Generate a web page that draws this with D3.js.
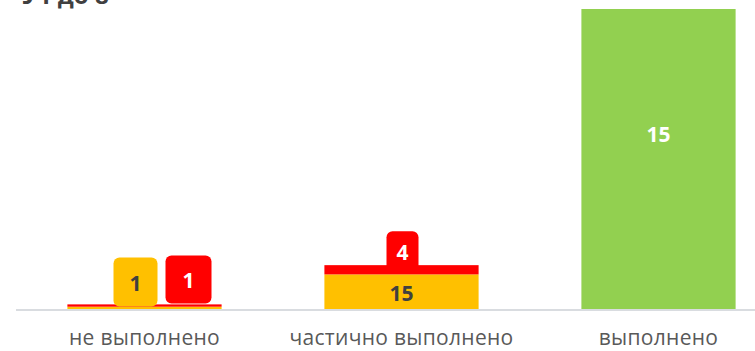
<!DOCTYPE html>
<html>
<head>
<meta charset="utf-8">
<script src="https://cdn.jsdelivr.net/npm/d3@7"></script>
<style>
  html, body { margin: 0; padding: 0; background: #fff; }
  svg { display: block; }
</style>
</head>
<body>
<svg id="chart" width="755" height="351"></svg>
<script>
// Task status counts per category
const categories = ["не выполнено", "частично выполнено", "выполнено"];
const notDone   = [1, 15, 0];   // yellow (bottom of stack)
const partial   = [1, 4, 0];    // red (stacked on yellow)
const done      = [0, 0, 15];   // green, secondary axis
const title = "У1 до 8";

const svg = d3.select("#chart");
const W = 755, H = 351;
const plot = { left: 16, right: 787, top: 9, bottom: 309 };

const x = d3.scaleBand().domain(categories).range([plot.left, plot.right]).paddingInner(0.4).paddingOuter(0.2);
const y1 = d3.scaleLinear().domain([0, 130]).range([plot.bottom, plot.top]);
const y2 = d3.scaleLinear().domain([0, 15]).range([plot.bottom, plot.top]);

const C = { yellow: "#FFC000", red: "#FF0000", green: "#92D050", axis: "#D9DCE0", text: "#595959", dark: "#404040" };

// Title (clipped at the top edge)
svg.append("text").attr("x", 22).attr("y", 4)
  .attr("font-family", "Open Sans, sans-serif").attr("font-weight", 700)
  .attr("font-size", 24).attr("fill", "#404040").text(title);

const bw = x.bandwidth();

// Stacked yellow / red bars on primary scale
categories.forEach((c, i) => {
  if (notDone[i] > 0) {
    svg.append("rect").attr("x", x(c)).attr("width", bw)
      .attr("y", y1(notDone[i])).attr("height", y1(0) - y1(notDone[i])).attr("fill", C.yellow);
  }
  if (partial[i] > 0) {
    svg.append("rect").attr("x", x(c)).attr("width", bw)
      .attr("y", y1(notDone[i] + partial[i])).attr("height", y1(notDone[i]) - y1(notDone[i] + partial[i]))
      .attr("fill", C.red);
  }
  if (done[i] > 0) {
    svg.append("rect").attr("x", x(c)).attr("width", bw)
      .attr("y", y2(done[i])).attr("height", y2(0) - y2(done[i])).attr("fill", C.green);
  }
});

// Axis baseline
const xAxis = svg.append("g").attr("transform", `translate(0,${plot.bottom + 1})`)
  .call(d3.axisBottom(x).tickSize(0).tickPadding(20));
xAxis.select(".domain").attr("stroke", C.axis).attr("stroke-width", 2)
  .attr("d", `M${plot.left},0H${W}`);
xAxis.selectAll("text").attr("font-family", "Open Sans, sans-serif").attr("font-size", 21)
  .attr("fill", C.text).attr("letter-spacing", 0.3);

const numFont = "Open Sans, sans-serif";
function numLabel(cx, cy, txt, fill) {
  svg.append("text").attr("x", cx).attr("y", cy).attr("text-anchor", "middle")
    .attr("dominant-baseline", "central").attr("font-family", numFont)
    .attr("font-weight", 700).attr("font-size", 21).attr("fill", fill).text(txt);
}
function callout(cx, top, bottom, w, fill, txt, txtFill) {
  svg.append("rect").attr("x", cx - w / 2).attr("y", top).attr("width", w)
    .attr("height", bottom - top).attr("rx", 6).attr("fill", fill);
  numLabel(cx, (top + bottom) / 2 + 1, txt, txtFill);
}

// Category 0: small stack, callouts pushed aside
{
  const c = categories[0], cx = x(c) + bw / 2;
  const top = y1(notDone[0] + partial[0]);
  callout(cx - 9, top - 47, top + 2, 44, C.yellow, notDone[0], C.dark);
  callout(cx + 44, top - 49, top - 1, 46, C.red, partial[0], "#fff");
}
// Category 1: yellow label inside the bar, red callout above
{
  const c = categories[1], cx = x(c) + bw / 2;
  numLabel(cx, (y1(0) + y1(notDone[1])) / 2 + 1, notDone[1], C.dark);
  const top = y1(notDone[1] + partial[1]);
  callout(cx + 1, top - 34, top + 6, 32, C.red, partial[1], "#fff");
}
// Category 2: green bar label
{
  const c = categories[2], cx = x(c) + bw / 2;
  numLabel(cx, (y2(0) + y2(done[2])) / 2 - 25, done[2], "#fff");
}
</script>
</body>
</html>
